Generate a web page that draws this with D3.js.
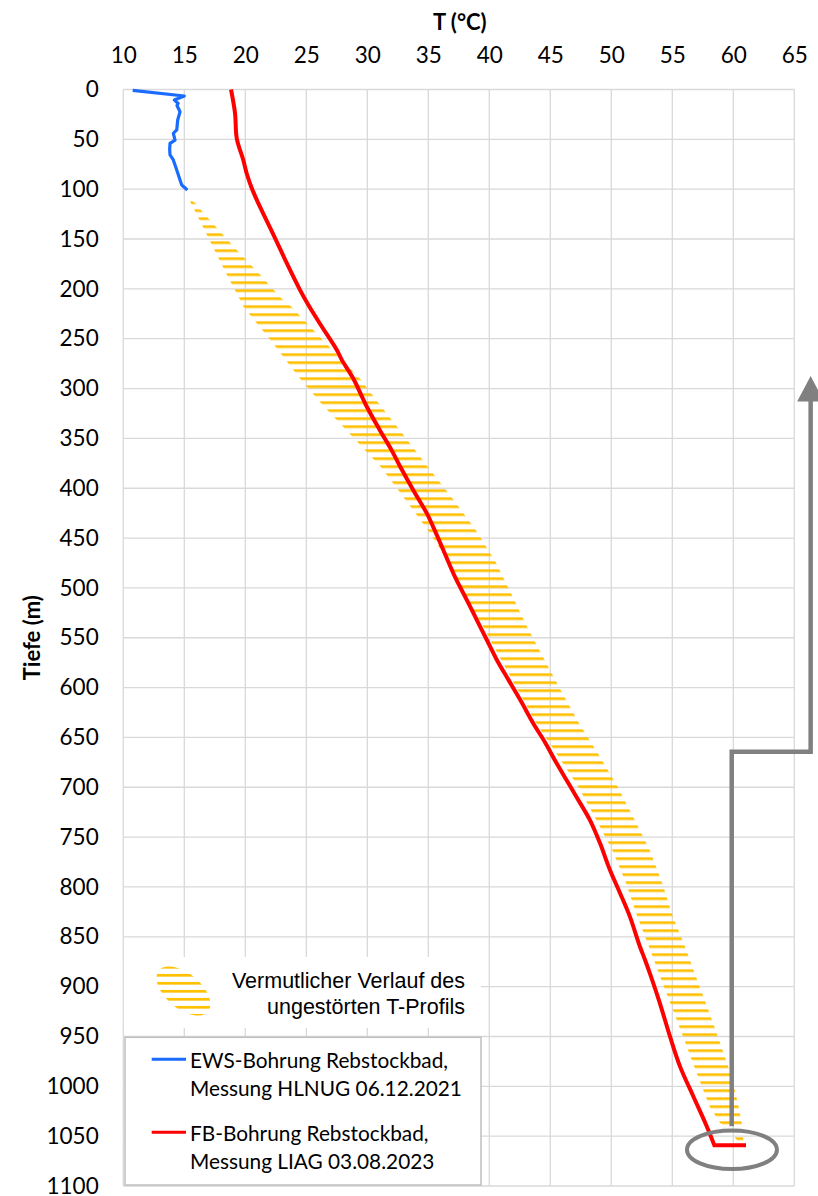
<!DOCTYPE html>
<html>
<head>
<meta charset="utf-8">
<script src="https://cdn.jsdelivr.net/npm/d3@7"></script>
<style>
  html, body { margin: 0; padding: 0; background: #fff; }
  svg { display: block; }
</style>
</head>
<body>
<svg id="chart" width="818" height="1196"></svg>
<script>
// Axis ticks
const tempTicks = [10, 15, 20, 25, 30, 35, 40, 45, 50, 55, 60, 65];
const depthTicks = [0, 50, 100, 150, 200, 250, 300, 350, 400, 450, 500, 550, 600, 650, 700, 750, 800, 850, 900, 950, 1000, 1050, 1100];

// EWS-Bohrung Rebstockbad, Messung HLNUG 06.12.2021
const ewsDepth = [0.8, 6.5, 10.5, 12.5, 13.8, 16, 22.3, 30.6, 40.6, 44, 50.7, 54, 60, 65.7, 70.7, 80.8, 90.8, 95.8, 100.8];
const ewsTemp  = [10.77, 15.0, 14.18, 14.35, 14.5, 14.4, 14.65, 14.46, 14.38, 14.1, 14.24, 13.83, 13.8, 13.83, 14.1, 14.38, 14.65, 14.79, 15.25];

// FB-Bohrung Rebstockbad, Messung LIAG 03.08.2023
const fbDepth = [0, 24, 49, 71, 84, 98, 111, 124, 148, 174, 201, 216, 235, 261, 271, 290, 318, 342, 362, 378, 402, 425, 439, 462, 489, 512, 532, 552, 572, 592, 612, 636, 656, 676, 693, 710, 733, 756, 783, 806, 830, 860, 873, 887, 917, 950, 980, 1010, 1040, 1059, 1059];
const fbTemp  = [18.83, 19.16, 19.3, 19.84, 20.11, 20.5, 20.95, 21.45, 22.4, 23.39, 24.48, 25.16, 26.12, 27.49, 27.9, 28.85, 29.95, 31.04, 32.0, 32.68, 33.77, 34.87, 35.41, 36.23, 37.19, 38.15, 38.97, 39.79, 40.61, 41.56, 42.52, 43.61, 44.62, 45.52, 46.34, 47.16, 48.25, 49.07, 49.89, 50.71, 51.53, 52.35, 52.76, 53.17, 53.99, 54.81, 55.63, 56.72, 57.82, 58.44, 61.04];

// Vermutlicher Verlauf des ungestörten T-Profils (band: lower / upper temperature)
const bandDepth = [111, 113.6, 121.9, 154, 186.1, 210.2, 218.2, 250.3, 290.4, 314.2, 346.3, 378.4, 410.5, 442.6, 474.7, 506.8, 538.9, 571.0, 603.1, 635.2, 667.3, 699.4, 731.5, 763.6, 795.8, 827.9, 860, 892.1, 924.2, 956.3, 988.4, 1020.5, 1036.6, 1044.6, 1052.6, 1055.5];
const bandLow   = [15.45, 15.52, 15.88, 17.19, 18.50, 19.54, 19.87, 22.0, 24.51, 26.18, 28.64, 31.10, 33.07, 35.0, 36.7, 37.85, 39.51, 40.93, 42.38, 43.83, 45.57, 47.30, 48.72, 50.11, 51.20, 52.08, 53.09, 54.07, 55.08, 56.07, 57.05, 58.07, 58.91, 59.73, 60.20, 60.45];
const bandHigh  = [15.55, 15.88, 16.43, 18.77, 21.23, 23.0, 23.80, 26.26, 29.43, 30.90, 32.95, 34.95, 37.0, 38.93, 40.55, 41.84, 43.09, 44.48, 45.88, 47.33, 48.97, 50.52, 51.86, 53.17, 54.16, 55.0, 56.04, 57.0, 57.98, 58.91, 59.81, 60.44, 60.69, 60.75, 60.82, 60.85];

// Annotation: ring around the bottom of the FB log and an arrow leading up
const ringCenter = { temp: 59.89, depth: 1063.6 };
const arrowPath = [
  { temp: 59.87, depth: 1040 },
  { temp: 59.87, depth: 664.3 },
  { temp: 66.34, depth: 664.3 },
  { temp: 66.34, depth: 312 }
];
const arrowTip = { temp: 66.34, depth: 287.4 };

const legendLines = [
  { color: "#1a6cff", text: ["EWS-Bohrung Rebstockbad,", "Messung HLNUG 06.12.2021"] },
  { color: "#ff0000", text: ["FB-Bohrung Rebstockbad,", "Messung LIAG 03.08.2023"] }
];
const bandLegendText = ["Vermutlicher Verlauf des", "ungestörten T-Profils"];

const svg = d3.select("#chart");
const x = d3.scaleLinear().domain([10, 65]).range([123.3, 794.3]);
const y = d3.scaleLinear().domain([0, 1100]).range([89.5, 1186]);

const gridColor = "#d9d9d9";
const tickFont = "Lato, 'Open Sans', sans-serif";

// Hatch patterns (horizontal gold stripes)
const defs = svg.append("defs");
function hatch(id, offsetY) {
  const p = defs.append("pattern")
    .attr("id", id)
    .attr("patternUnits", "userSpaceOnUse")
    .attr("x", 0).attr("y", offsetY)
    .attr("width", 900).attr("height", 8);
  p.append("rect").attr("x", 0).attr("y", 0).attr("width", 900).attr("height", 2.7).attr("fill", "#ffc000");
}
hatch("hatchBand", 1.35);
hatch("hatchLegend", 5.95);

// Gridlines and frame
const grid = svg.append("g");
grid.selectAll("line.v").data(tempTicks).join("line")
  .attr("x1", d => x(d)).attr("x2", d => x(d))
  .attr("y1", y(0)).attr("y2", y(1100))
  .attr("stroke", gridColor).attr("stroke-width", 1.3);
grid.selectAll("line.h").data(depthTicks).join("line")
  .attr("x1", x(10)).attr("x2", x(65))
  .attr("y1", d => y(d)).attr("y2", d => y(d))
  .attr("stroke", gridColor).attr("stroke-width", 1.3);

// Axes
const xAxis = d3.axisTop(x).tickValues(tempTicks).tickSize(0).tickPadding(27).tickFormat(d3.format("d"));
svg.append("g").attr("transform", `translate(0,${y(0)})`).call(xAxis)
  .call(g => g.select(".domain").remove())
  .selectAll("text").attr("font-family", tickFont).attr("font-size", 22.5).attr("fill", "#000");

const yAxis = d3.axisLeft(y).tickValues(depthTicks).tickSize(0).tickPadding(24.6).tickFormat(d3.format("d"));
svg.append("g").attr("transform", `translate(${x(10)},0)`).call(yAxis)
  .call(g => g.select(".domain").remove())
  .selectAll("text").attr("font-family", tickFont).attr("font-size", 22.5).attr("fill", "#000");

// Axis titles
svg.append("text").attr("x", (x(10) + x(65)) / 2 + 1).attr("y", 29.5)
  .attr("text-anchor", "middle").attr("font-family", tickFont).attr("font-weight", "bold")
  .attr("font-size", 22).text("T (°C)");
svg.append("text").attr("transform", `translate(40,${(y(0) + y(1100)) / 2}) rotate(-90)`)
  .attr("text-anchor", "middle").attr("font-family", tickFont).attr("font-weight", "bold")
  .attr("font-size", 22).text("Tiefe (m)");

// Undisturbed profile band
const bandData = bandDepth.map((d, i) => ({ depth: d, lo: bandLow[i], hi: bandHigh[i] }));
svg.append("path").datum(bandData)
  .attr("d", d3.area().y(d => y(d.depth)).x0(d => x(d.lo)).x1(d => x(d.hi)))
  .attr("fill", "url(#hatchBand)");

// Temperature logs
const line = d3.line().x(d => x(d.t)).y(d => y(d.d));
svg.append("path").datum(ewsDepth.map((d, i) => ({ d, t: ewsTemp[i] })))
  .attr("d", line).attr("fill", "none").attr("stroke", "#1a6cff")
  .attr("stroke-width", 3.2).attr("stroke-linejoin", "round");

// FB log: smooth profile down to the bottom, then the straight final step
const fbPoints = fbDepth.map((d, i) => ({ d, t: fbTemp[i] }));
const fbCurve = d3.line().x(d => x(d.t)).y(d => y(d.d)).curve(d3.curveCatmullRom.alpha(0.5));
const fbLast = fbPoints[fbPoints.length - 1];
svg.append("path")
  .attr("d", fbCurve(fbPoints.slice(0, -1)) + `L${x(fbLast.t)},${y(fbLast.d)}`)
  .attr("fill", "none").attr("stroke", "#ff0000")
  .attr("stroke-width", 4).attr("stroke-linejoin", "miter");

// Legend: band
svg.append("rect").attr("x", 123.9).attr("y", 957).attr("width", 357).attr("height", 71).attr("fill", "#fff");
const clip = defs.append("clipPath").attr("id", "legendSwatch");
clip.append("ellipse").attr("rx", 32).attr("ry", 17.5).attr("transform", "translate(183.5,991) rotate(40)");
svg.append("rect").attr("x", 150).attr("y", 960).attr("width", 70).attr("height", 62)
  .attr("fill", "url(#hatchLegend)").attr("clip-path", "url(#legendSwatch)");

const bandText = svg.append("text").attr("font-family", "'Liberation Sans', Arial, sans-serif")
  .attr("font-size", 21.5).attr("text-anchor", "end").attr("fill", "#000");
bandText.selectAll("tspan").data(bandLegendText).join("tspan")
  .attr("x", 465).attr("y", (d, i) => 988 + i * 25.5).text(d => d);

// Legend: measured logs
svg.append("rect").attr("x", 125).attr("y", 1037.3).attr("width", 356).attr("height", 147.7)
  .attr("fill", "#fff").attr("stroke", "#bfbfbf").attr("stroke-width", 1.5);
const lg = svg.append("g").selectAll("g").data(legendLines).join("g")
  .attr("transform", (d, i) => `translate(0,${i * 73})`);
lg.append("line").attr("x1", 151.7).attr("x2", 186).attr("y1", 1059.3).attr("y2", 1059.3)
  .attr("stroke", d => d.color).attr("stroke-width", 3);
lg.append("text").attr("font-family", tickFont).attr("font-size", 20.8).attr("fill", "#000")
  .selectAll("tspan").data(d => d.text).join("tspan")
  .attr("x", 190).attr("y", (d, i) => 1068.3 + i * 27.4).text(d => d);

// Annotation
const gray = "#808080";
svg.append("ellipse").attr("cx", x(ringCenter.temp)).attr("cy", y(ringCenter.depth))
  .attr("rx", 45).attr("ry", 19.3).attr("fill", "none").attr("stroke", gray).attr("stroke-width", 4);
svg.append("path").datum(arrowPath)
  .attr("d", d3.line().x(d => x(d.temp)).y(d => y(d.depth)))
  .attr("fill", "none").attr("stroke", gray).attr("stroke-width", 4.5).attr("stroke-linejoin", "miter");
const tipX = x(arrowTip.temp), tipY = y(arrowTip.depth), baseY = y(312) + 1;
svg.append("path")
  .attr("d", `M${tipX},${tipY} L${tipX + 13.5},${baseY} L${tipX - 13.5},${baseY} Z`)
  .attr("fill", gray);
</script>
</body>
</html>
